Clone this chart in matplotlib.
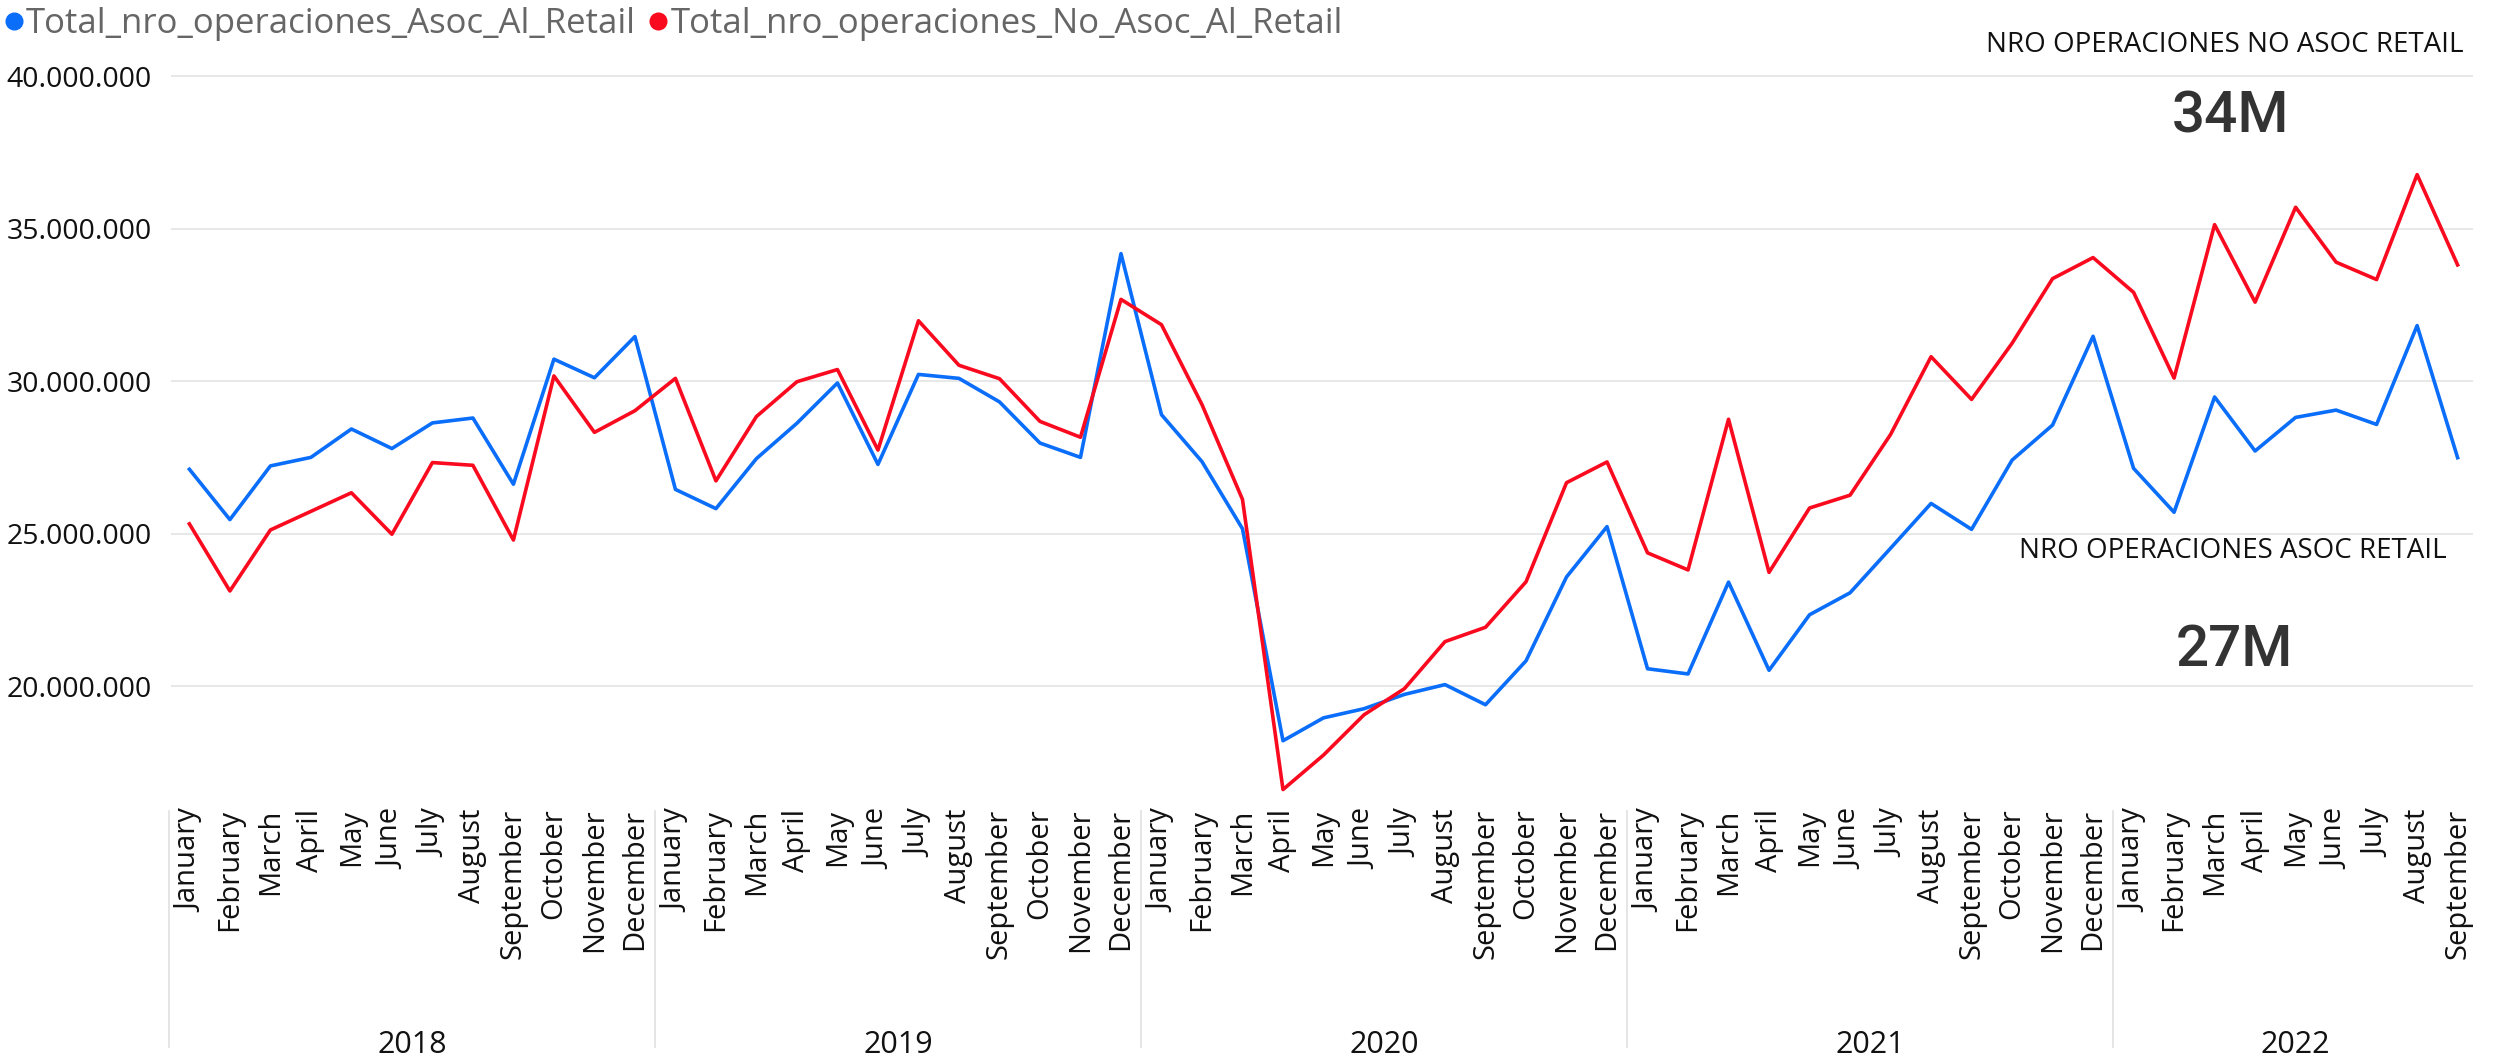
import matplotlib.pyplot as plt
from matplotlib.lines import Line2D
from matplotlib.ticker import FuncFormatter

plt.rcParams['font.family'] = ['Open Sans', 'DejaVu Sans']

# datos (millones)
month_names = ['January', 'February', 'March', 'April', 'May', 'June', 'July',
               'August', 'September', 'October', 'November', 'December']
years = ['2018', '2019', '2020', '2021', '2022']
months_per_year = [12, 12, 12, 12, 9]

asoc_retail = [27.11, 25.46, 27.22, 27.50, 28.43, 27.79, 28.63, 28.79, 26.62, 30.72, 30.11, 31.46,
               26.45, 25.82, 27.46, 28.62, 29.94, 27.27, 30.22, 30.09, 29.32, 27.97, 27.50, 34.18,
               28.90, 27.36, 25.16, 18.21, 18.96, 19.26, 19.73, 20.05, 19.39, 20.83, 23.58, 25.23,
               20.57, 20.40, 23.41, 20.52, 22.34, 23.06, 24.52, 25.99, 25.14, 27.41, 28.56, 31.47,
               27.14, 25.70, 29.48, 27.71, 28.81, 29.05, 28.58, 31.82, 27.49]
no_asoc_retail = [25.32, 23.12, 25.12, 25.73, 26.34, 24.98, 27.33, 27.24, 24.79, 30.17, 28.32, 29.03,
                  30.09, 26.73, 28.84, 29.98, 30.38, 27.74, 31.98, 30.52, 30.08, 28.68, 28.16, 32.68,
                  31.85, 29.23, 26.12, 16.61, 17.74, 19.06, 19.92, 21.46, 21.93, 23.42, 26.67, 27.35,
                  24.37, 23.81, 28.75, 23.73, 25.84, 26.26, 28.25, 30.80, 29.40, 31.24, 33.36, 34.05,
                  32.91, 30.10, 35.13, 32.59, 35.70, 33.90, 33.33, 36.77, 33.81]

labels = []
for n in months_per_year:
    labels += month_names[:n]
x = list(range(len(labels)))

blue = '#0A6EFA'
red = '#FA0A1E'
W, H = 2503, 1056

fig = plt.figure(figsize=(W / 100, H / 100), dpi=100)
ax = fig.add_axes([171 / W, 1 - 799 / H, (2473 - 171) / W, (799 - 70) / H])

ax.plot(x, [v * 1e6 for v in asoc_retail], color=blue, lw=2.6)
ax.plot(x, [v * 1e6 for v in no_asoc_retail], color=red, lw=2.6)

ax.set_xlim(-0.454, 56.38)
ax.set_ylim(16.3e6, 40.2e6)
ax.set_yticks([20e6, 25e6, 30e6, 35e6, 40e6])
ax.yaxis.set_major_formatter(FuncFormatter(lambda v, p: f"{int(v):,}".replace(',', '.')))
ax.grid(axis='y', color='#E6E6E6', lw=1.3)
ax.set_axisbelow(True)
for s in ax.spines.values():
    s.set_visible(False)

ax.set_xticks(x)
ax.set_xticklabels(labels, rotation=90, va='top', ha='center', fontsize=21, color='#111111')
ax.tick_params(axis='x', length=0, pad=7)
ax.tick_params(axis='y', length=0, pad=14, labelsize=20.5, labelcolor='#111111')

# separadores de anio y etiquetas
start = 0
for yr, n in zip(years, months_per_year):
    ax.plot([start - 0.5, start - 0.5], [-0.016, -0.34], transform=ax.get_xaxis_transform(),
            color='#E3E3E3', lw=1.3, clip_on=False)
    ax.text(start + (n - 1) / 2, -0.338, yr, transform=ax.get_xaxis_transform(),
            ha='center', va='center', fontsize=22, color='#111111')
    start += n

handles = [Line2D([], [], ls='none', marker='o', markersize=12, color=blue),
           Line2D([], [], ls='none', marker='o', markersize=12, color=red)]
fig.legend(handles, ['Total_nro_operaciones_Asoc_Al_Retail', 'Total_nro_operaciones_No_Asoc_Al_Retail'],
           loc='center left', bbox_to_anchor=(0.002, 1 - 24 / H), ncol=2, frameon=False,
           handlelength=0.5, handletextpad=0.1, columnspacing=0.4, borderaxespad=0,
           borderpad=0, prop={'size': 25}, labelcolor='#666666')

fig.text(2463 / W, 1 - 45 / H, 'NRO OPERACIONES NO ASOC RETAIL', ha='right', va='center',
         fontsize=20, color='#111111')
fig.text(2230 / W, 1 - 117 / H, '34M', ha='center', va='center', fontsize=42,
         color='#333333', family=['Roboto', 'DejaVu Sans'], weight='medium')
fig.text(2447 / W, 1 - 551 / H, 'NRO OPERACIONES ASOC RETAIL', ha='right', va='center',
         fontsize=20, color='#111111')
fig.text(2234 / W, 1 - 650 / H, '27M', ha='center', va='center', fontsize=42,
         color='#333333', family=['Roboto', 'DejaVu Sans'], weight='medium')

fig.savefig('out.png', dpi=100)
